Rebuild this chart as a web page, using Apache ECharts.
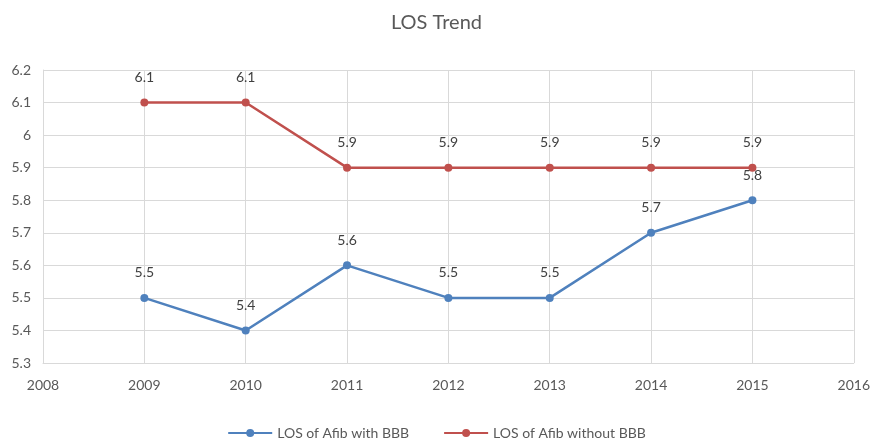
<!DOCTYPE html>
<html>
<head>
<meta charset="utf-8">
<script src="https://cdn.jsdelivr.net/npm/echarts@6/dist/echarts.min.js"></script>
<style>
html,body{margin:0;padding:0;background:#fff;}
#chart{width:873px;height:447px;}
</style>
</head>
<body>
<div id="chart"></div>
<script>
// 数据
var years = [2009, 2010, 2011, 2012, 2013, 2014, 2015];
var withBBB = [5.5, 5.4, 5.6, 5.5, 5.5, 5.7, 5.8];
var withoutBBB = [6.1, 6.1, 5.9, 5.9, 5.9, 5.9, 5.9];
var seriesNames = ['LOS of Afib with BBB', 'LOS of Afib without BBB'];

var chart = echarts.init(document.getElementById('chart'));
var font = 'Lato, "Open Sans", sans-serif';

function pairs(vals){
  return years.map(function(y, i){ return [y, vals[i]]; });
}

chart.setOption({
  animation: false,
  textStyle: {fontFamily: font},
  title: {
    text: 'LOS Trend',
    left: 'center',
    top: 8,
    textStyle: {color: '#595959', fontSize: 20, fontWeight: 'normal', fontFamily: font}
  },
  legend: {
    bottom: 2,
    left: 'center',
    itemWidth: 44,
    itemHeight: 10,
    itemGap: 34,
    textStyle: {color: '#595959', fontSize: 14},
    data: seriesNames
  },
  grid: {left: 43, right: 16, top: 70, bottom: 84},
  xAxis: {
    type: 'value',
    min: 2008,
    max: 2016,
    interval: 1,
    axisLine: {show: true, lineStyle: {color: '#d9d9d9'}},
    axisTick: {show: false},
    axisLabel: {color: '#595959', fontSize: 14, margin: 15,
      formatter: function(v){ return String(v); }},
    splitLine: {show: true, lineStyle: {color: '#d9d9d9'}}
  },
  yAxis: {
    type: 'value',
    min: 5.3,
    max: 6.2,
    interval: 0.1,
    axisLine: {show: true, lineStyle: {color: '#d9d9d9'}},
    axisTick: {show: false},
    axisLabel: {color: '#595959', fontSize: 14, margin: 12,
      formatter: function(v){ return String(Math.round(v * 10) / 10); }},
    splitLine: {show: true, lineStyle: {color: '#d9d9d9'}}
  },
  series: [
    {
      name: seriesNames[0],
      type: 'line',
      data: pairs(withBBB),
      symbol: 'circle',
      symbolSize: 8,
      itemStyle: {color: '#4f81bd'},
      lineStyle: {color: '#4f81bd', width: 2.5},
      label: {show: true, position: 'top', distance: 14, color: '#404040', fontSize: 14}
    },
    {
      name: seriesNames[1],
      type: 'line',
      data: pairs(withoutBBB),
      symbol: 'circle',
      symbolSize: 8,
      itemStyle: {color: '#c0504d'},
      lineStyle: {color: '#c0504d', width: 2.5},
      label: {show: true, position: 'top', distance: 14, color: '#404040', fontSize: 14}
    }
  ]
});
</script>
</body>
</html>
